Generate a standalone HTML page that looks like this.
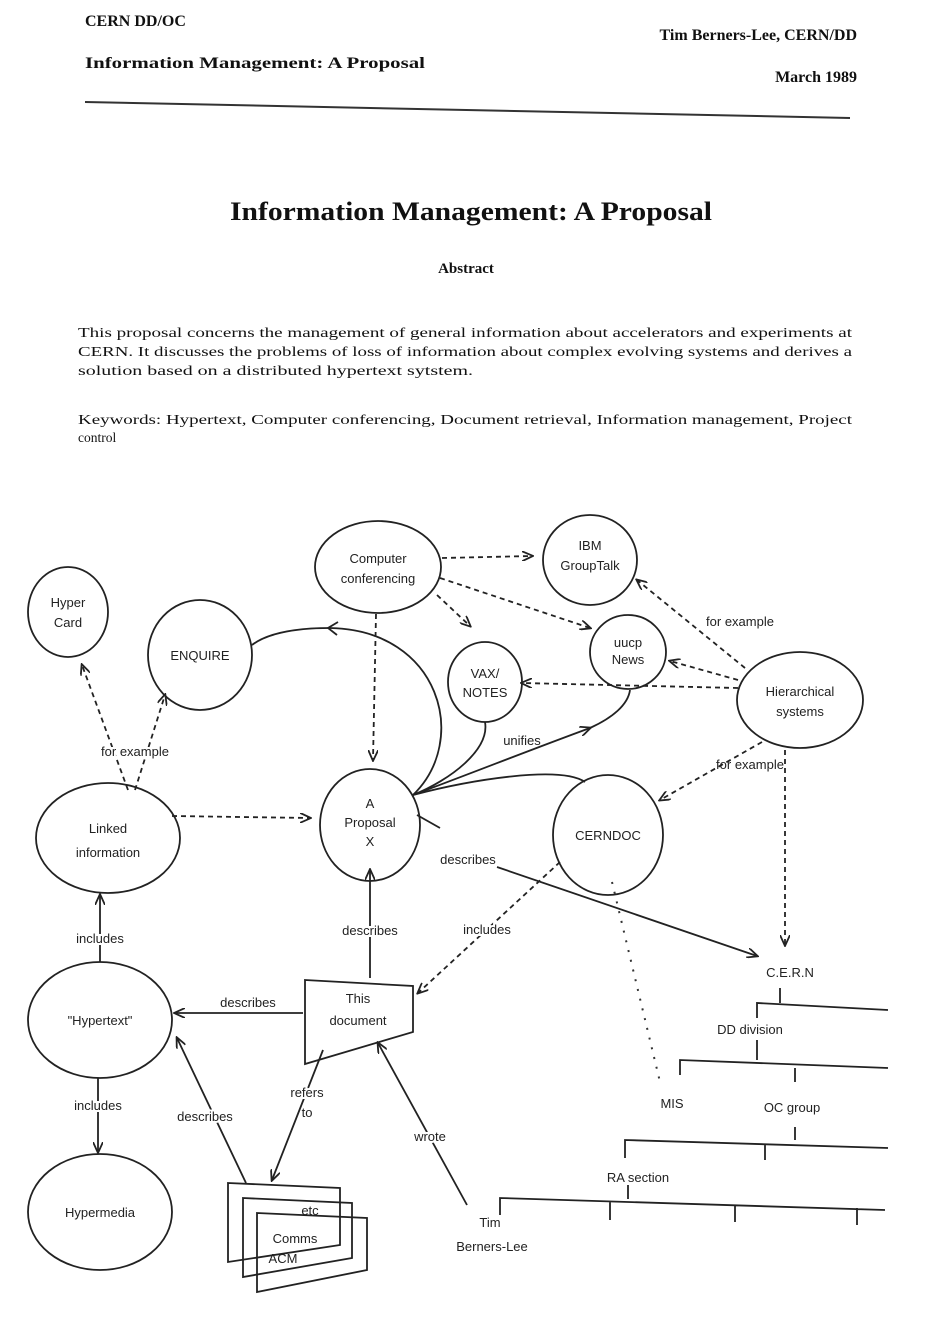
<!DOCTYPE html>
<html><head><meta charset="utf-8"><style>
html,body{margin:0;padding:0;background:#fff;}
svg{display:block}
.s{font-family:"Liberation Serif",serif;fill:#111}
.d{font-family:"Liberation Sans",sans-serif;font-size:13px;fill:#222;text-anchor:middle}
.n{fill:none;stroke:#222;stroke-width:1.8}
.c{fill:none;stroke:#222;stroke-width:1.8}
.l{fill:none;stroke:#222;stroke-width:1.8}
.dl{fill:none;stroke:#222;stroke-width:1.8;stroke-dasharray:5 4}
.w{paint-order:stroke;stroke:#fff;stroke-width:4}
</style></head><body>
<svg width="935" height="1341" viewBox="0 0 935 1341" xmlns="http://www.w3.org/2000/svg">
<defs>
<marker id="a" markerWidth="12" markerHeight="10" refX="10" refY="5" orient="auto" markerUnits="userSpaceOnUse">
<path d="M0,0 L11,5 L0,10" fill="none" stroke="#222" stroke-width="1.8"/></marker>
</defs>
<!-- header -->
<text class="s" x="85" y="26" font-size="16" font-weight="bold">CERN DD/OC</text>
<text class="s" x="85" y="68" font-size="15.5" font-weight="bold" textLength="340" lengthAdjust="spacingAndGlyphs">Information Management: A Proposal</text>
<text class="s" x="857" y="40" font-size="16" font-weight="bold" text-anchor="end">Tim Berners-Lee, CERN/DD</text>
<text class="s" x="857" y="82" font-size="16" font-weight="bold" text-anchor="end">March 1989</text>
<line x1="85" y1="102" x2="850" y2="118" stroke="#333" stroke-width="2"/>
<text class="s" x="230" y="220" font-size="26" font-weight="bold" textLength="482" lengthAdjust="spacingAndGlyphs">Information Management: A Proposal</text>
<text class="s" x="466" y="273" font-size="15" font-weight="bold" text-anchor="middle">Abstract</text>
<text class="s" x="78" y="337" font-size="13.5" textLength="774" lengthAdjust="spacingAndGlyphs">This proposal concerns the management of general information about accelerators and experiments at</text>
<text class="s" x="78" y="356" font-size="13.5" textLength="774" lengthAdjust="spacingAndGlyphs">CERN.  It discusses the problems of loss of information about complex evolving systems and derives a</text>
<text class="s" x="78" y="375" font-size="13.5" textLength="395" lengthAdjust="spacingAndGlyphs">solution based on a distributed hypertext sytstem.</text>
<text class="s" x="78" y="424" font-size="13.5" textLength="774" lengthAdjust="spacingAndGlyphs">Keywords: Hypertext, Computer conferencing, Document retrieval, Information management, Project</text>
<text class="s" x="78" y="442" font-size="13.5">control</text>

<!-- nodes -->
<ellipse class="n" cx="68" cy="612" rx="40" ry="45"/>
<text class="d" x="68" y="607">Hyper</text><text class="d" x="68" y="627">Card</text>
<ellipse class="n" cx="200" cy="655" rx="52" ry="55"/>
<text class="d" x="200" y="660">ENQUIRE</text>
<ellipse class="c" cx="378" cy="567" rx="63" ry="46"/>
<text class="d" x="378" y="563">Computer</text><text class="d" x="378" y="583">conferencing</text>
<ellipse class="n" cx="590" cy="560" rx="47" ry="45"/>
<text class="d" x="590" y="550">IBM</text><text class="d" x="590" y="570">GroupTalk</text>
<ellipse class="n" cx="628" cy="652" rx="38" ry="37"/>
<text class="d" x="628" y="647" font-size="11">uucp</text><text class="d" x="628" y="664" font-size="11">News</text>
<ellipse class="n" cx="485" cy="682" rx="37" ry="40"/>
<text class="d" x="485" y="678">VAX/</text><text class="d" x="485" y="697">NOTES</text>
<ellipse class="c" cx="800" cy="700" rx="63" ry="48"/>
<text class="d" x="800" y="696">Hierarchical</text><text class="d" x="800" y="716">systems</text>
<ellipse class="n" cx="370" cy="825" rx="50" ry="56"/>
<text class="d" x="370" y="808">A</text><text class="d" x="370" y="827">Proposal</text><text class="d" x="370" y="846">X</text>
<ellipse class="c" cx="108" cy="838" rx="72" ry="55"/>
<text class="d" x="108" y="833" font-size="15">Linked</text><text class="d" x="108" y="857" font-size="15">information</text>
<ellipse class="n" cx="608" cy="835" rx="55" ry="60"/>
<text class="d" x="608" y="840">CERNDOC</text>
<ellipse class="c" cx="100" cy="1020" rx="72" ry="58"/>
<text class="d" x="100" y="1025" font-size="14">"Hypertext"</text>
<ellipse class="c" cx="100" cy="1212" rx="72" ry="58"/>
<text class="d" x="100" y="1217" font-size="14">Hypermedia</text>
<path class="n" d="M305,980 L413,986 L413,1032 L305,1064 Z" fill="#fff"/>
<text class="d" x="358" y="1003">This</text><text class="d" x="358" y="1025">document</text>
<path class="n" d="M228,1183 L340,1188 L340,1245 L228,1262 Z" fill="#fff"/>
<path class="n" d="M243,1198 L352,1203 L352,1258 L243,1277 Z" fill="#fff"/>
<text class="d" x="310" y="1215">etc</text>
<path class="n" d="M257,1213 L367,1218 L367,1270 L257,1292 Z" fill="#fff"/>
<text class="d" x="295" y="1243">Comms</text><text class="d" x="283" y="1263">ACM</text>

<!-- org chart -->
<text class="d" x="790" y="977" font-size="15">C.E.R.N</text>
<path class="l" d="M780,988 V1003 M757,1018 V1003 L888,1010"/>
<text class="d" x="750" y="1034">DD division</text>
<path class="l" d="M757,1040 V1060 M680,1075 V1060 L888,1068 M795,1068 V1082"/>
<text class="d" x="672" y="1108">MIS</text>
<text class="d" x="792" y="1112">OC group</text>
<path class="l" d="M795,1127 V1140 M625,1158 V1140 L888,1148 M765,1145 V1160"/>
<text class="d" x="638" y="1182">RA section</text>
<path class="l" d="M628,1185 V1199 M500,1215 V1198 L885,1210 M610,1202 V1220 M735,1205 V1222 M857,1208 V1225"/>
<text class="d" x="490" y="1227">Tim</text><text class="d" x="492" y="1251">Berners-Lee</text>

<!-- connectors -->
<line class="dl" x1="442" y1="558" x2="532" y2="556" marker-end="url(#a)"/>
<line class="dl" x1="440" y1="578" x2="590" y2="628" marker-end="url(#a)"/>
<line class="dl" x1="437" y1="595" x2="470" y2="626" marker-end="url(#a)"/>
<line class="dl" x1="376" y1="614" x2="373" y2="760" marker-end="url(#a)"/>
<line class="dl" x1="745" y1="668" x2="637" y2="580" marker-end="url(#a)"/>
<text class="d" x="740" y="626">for example</text>
<line class="dl" x1="738" y1="680" x2="670" y2="661" marker-end="url(#a)"/>
<line class="dl" x1="738" y1="688" x2="522" y2="683" marker-end="url(#a)"/>
<line class="dl" x1="762" y1="742" x2="660" y2="800" marker-end="url(#a)"/>
<text class="d" x="750" y="769">for example</text>
<line class="dl" x1="785" y1="750" x2="785" y2="945" marker-end="url(#a)"/>
<line class="dl" x1="128" y1="790" x2="82" y2="665" marker-end="url(#a)"/>
<line class="dl" x1="135" y1="790" x2="165" y2="695" marker-end="url(#a)"/>
<text class="d w" x="135" y="756">for example</text>
<line class="dl" x1="172" y1="816" x2="310" y2="818" marker-end="url(#a)"/>
<path class="l" d="M413,795 C470,740 440,630 330,628 C290,628 265,635 252,645"/>
<path class="l" d="M338,622 L328,628 L337,635"/>
<path class="l" d="M413,795 C450,780 490,750 485,722"/>
<path class="l" d="M413,795 C480,770 530,750 590,728" marker-end="url(#a)"/>
<path class="l" d="M590,728 C612,718 628,705 630,690"/>
<text class="d" x="522" y="745">unifies</text>
<path class="l" d="M413,795 C470,780 560,765 585,782"/>
<path class="l" d="M417,815 L440,828"/>
<line class="l" x1="497" y1="867" x2="757" y2="956" marker-end="url(#a)"/>
<text class="d" x="468" y="864">describes</text>
<line class="dl" x1="560" y1="862" x2="418" y2="993" marker-end="url(#a)"/>
<text class="d w" x="487" y="934">includes</text>
<line x1="612" y1="882" x2="660" y2="1082" stroke="#333" stroke-width="2" stroke-dasharray="2 8"/>
<line class="l" x1="370" y1="978" x2="370" y2="870" marker-end="url(#a)"/>
<text class="d w" x="370" y="935">describes</text>
<line class="l" x1="100" y1="962" x2="100" y2="895" marker-end="url(#a)"/>
<text class="d w" x="100" y="943">includes</text>
<line class="l" x1="303" y1="1013" x2="175" y2="1013" marker-end="url(#a)"/>
<text class="d" x="248" y="1007">describes</text>
<line class="l" x1="98" y1="1078" x2="98" y2="1152" marker-end="url(#a)"/>
<text class="d w" x="98" y="1110">includes</text>
<line class="l" x1="246" y1="1183" x2="177" y2="1038" marker-end="url(#a)"/>
<text class="d w" x="205" y="1121">describes</text>
<line class="l" x1="323" y1="1050" x2="272" y2="1180" marker-end="url(#a)"/>
<text class="d w" x="307" y="1097">refers</text>
<text class="d" x="307" y="1117">to</text>
<line class="l" x1="467" y1="1205" x2="378" y2="1043" marker-end="url(#a)"/>
<text class="d w" x="430" y="1141">wrote</text>
</svg>
</body></html>
